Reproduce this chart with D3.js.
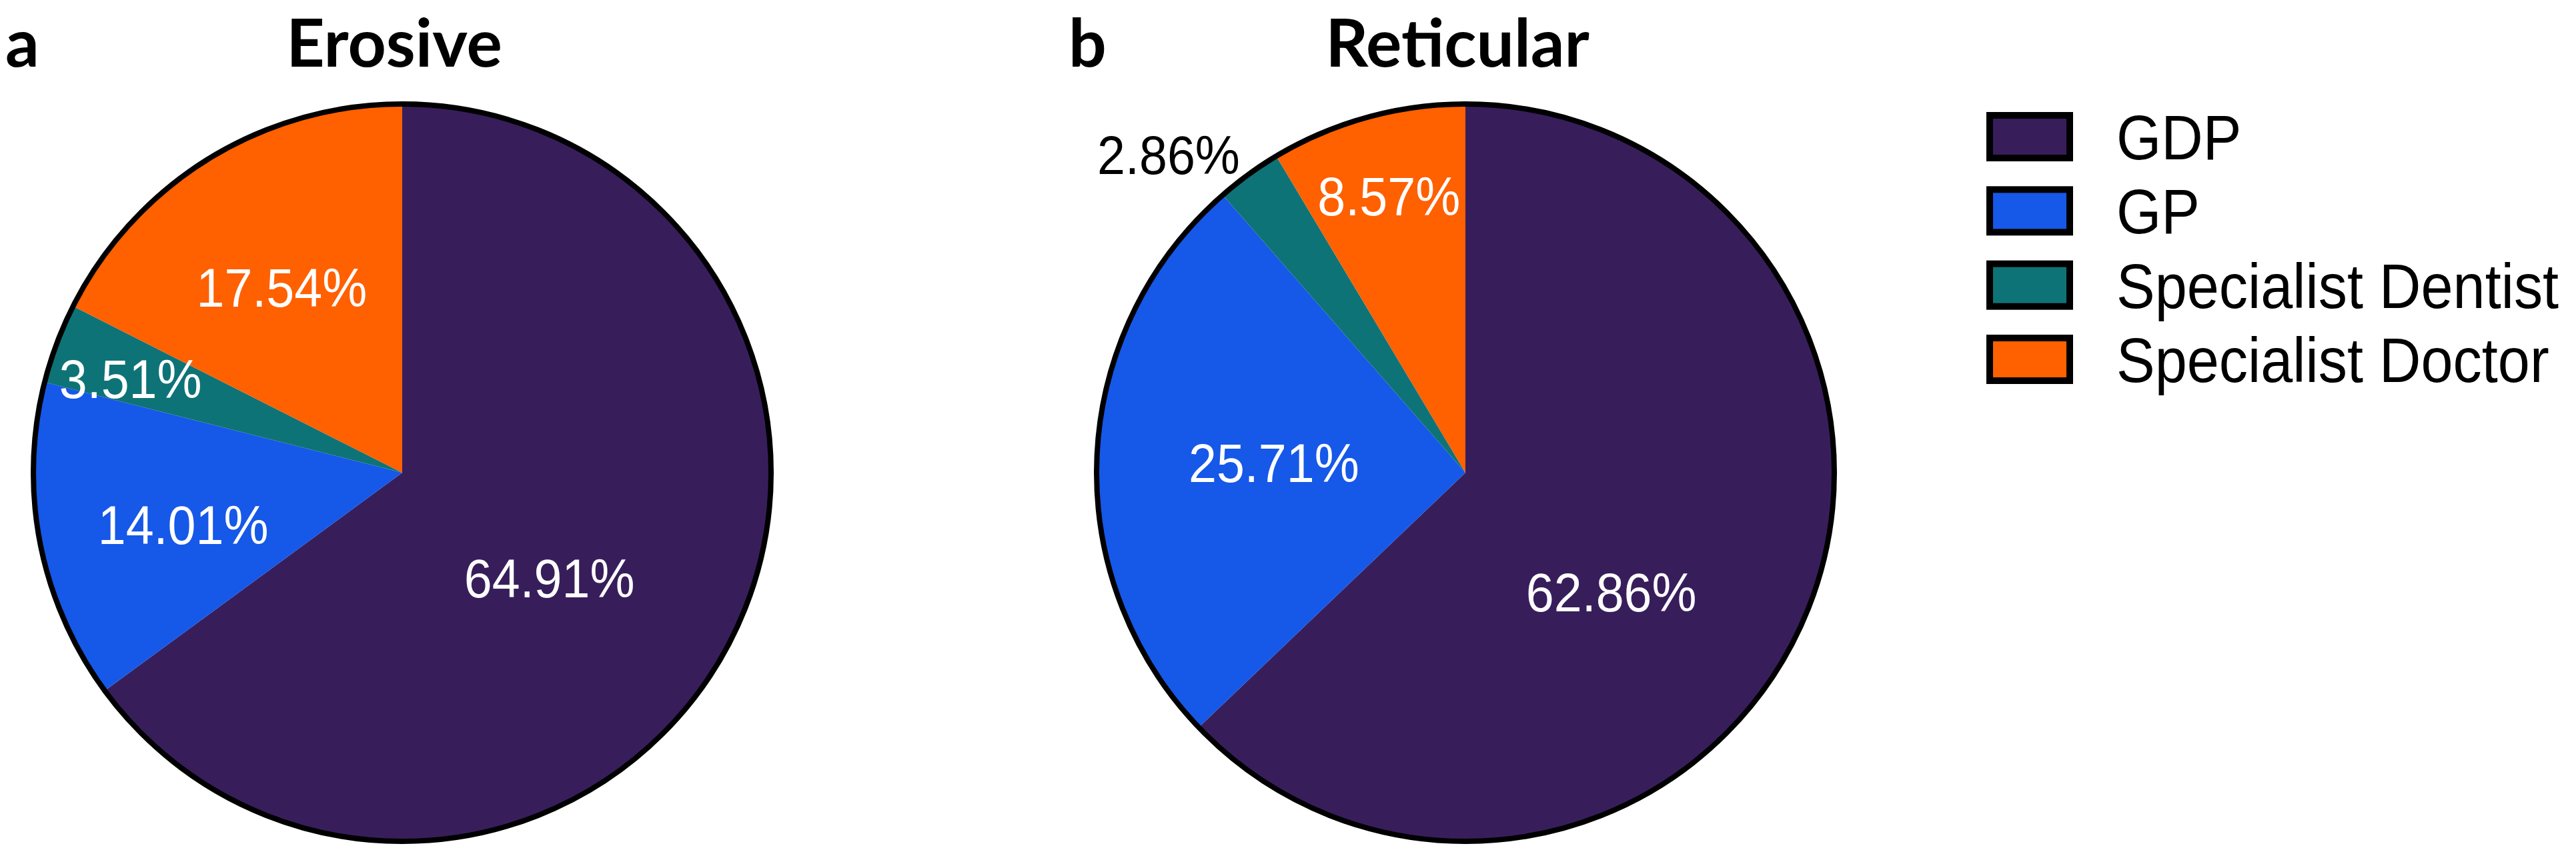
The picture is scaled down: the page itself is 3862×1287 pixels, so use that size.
<!DOCTYPE html>
<html>
<head>
<meta charset="utf-8">
<script src="https://cdn.jsdelivr.net/npm/d3@7"></script>
<style>
  body { margin: 0; background: #fff; }
  svg { display: block; }
  .sans { font-family: 'Liberation Sans', Arimo, Arial, sans-serif; }
  .head { font-family: Lato, 'Open Sans', sans-serif; font-weight: bold; }
</style>
</head>
<body>
<svg></svg>
<script>
const categories = ['GDP', 'GP', 'Specialist Dentist', 'Specialist Doctor'];
const colours = ['#371e5b', '#1658e8', '#0e7377', '#ff6000'];

const erosiveValues = [64.91, 14.01, 3.51, 17.54];
const reticularValues = [62.86, 25.71, 2.86, 8.57];

// label placement: share of radius, and a small turn (degrees) off the slice middle
const erosiveLabelPos = [0.49, 0.61, 0.78, 0.6];
const erosiveLabelTurn = [8.6, -2.2, -1.3, -1.4];
const reticularLabelPos = [0.51, 0.52, 1.18, 0.78];
const reticularLabelTurn = [16, 0.6, -7, 0];
const reticularLabelInk = ['#fff', '#fff', '#000', '#fff'];

const svgWidth = 3862;
const svgHeight = 1287;
const radius = 553;

const svg = d3.select('svg')
    .attr('width', svgWidth)
    .attr('height', svgHeight);

const colour = d3.scaleOrdinal()
    .domain(categories)
    .range(colours);

const pie = d3.pie()
    .sort(null)
    .value(d => d.value);

const arc = d3.arc()
    .innerRadius(0)
    .outerRadius(radius);

function drawPie(cx, cy, letter, title, values, labelPos, labelTurn, labelInk) {
    const data = categories.map((c, i) => ({ name: c, value: values[i] }));
    const g = svg.append('g')
        .attr('transform', `translate(${cx}, ${cy})`);

    g.selectAll('.slice')
        .data(pie(data))
        .enter().append('path')
        .attr('class', 'slice')
        .attr('d', arc)
        .attr('fill', d => colour(d.data.name));

    g.append('circle')
        .attr('r', radius)
        .attr('fill', 'none')
        .attr('stroke', '#000')
        .attr('stroke-width', 8);

    g.selectAll('.lbl')
        .data(pie(data))
        .enter().append('text')
        .attr('class', 'lbl sans')
        .attr('transform', (d, i) => {
            const a = (d.startAngle + d.endAngle) / 2 + labelTurn[i] * Math.PI / 180;
            const r = radius * labelPos[i];
            return `translate(${r * Math.sin(a)}, ${-r * Math.cos(a)}) scale(0.92, 1)`;
        })
        .attr('text-anchor', 'middle')
        .attr('dy', '0.36em')
        .attr('font-size', '82px')
        .attr('fill', (d, i) => labelInk ? labelInk[i] : '#fff')
        .text(d => `${d.data.value.toFixed(2)}%`);

    svg.append('text')
        .attr('class', 'head')
        .attr('x', cx - 12)
        .attr('y', 100)
        .attr('text-anchor', 'middle')
        .attr('font-size', '100px')
        .attr('fill', '#000')
        .text(title);

    svg.append('text')
        .attr('class', 'head')
        .attr('x', cx - 595)
        .attr('y', 100)
        .attr('font-size', '100px')
        .attr('fill', '#000')
        .text(letter);
}

drawPie(603, 709, 'a', 'Erosive', erosiveValues, erosiveLabelPos, erosiveLabelTurn, null);
drawPie(2197, 709, 'b', 'Reticular', reticularValues, reticularLabelPos, reticularLabelTurn, reticularLabelInk);

// legend
const legendY = d3.scalePoint()
    .domain(categories)
    .range([205, 539]);

const legend = svg.append('g');

legend.selectAll('rect')
    .data(categories)
    .enter().append('rect')
    .attr('x', 2983)
    .attr('y', d => legendY(d) - 32)
    .attr('width', 120)
    .attr('height', 64)
    .attr('fill', d => colour(d))
    .attr('stroke', '#000')
    .attr('stroke-width', 10);

legend.selectAll('text')
    .data(categories)
    .enter().append('text')
    .attr('class', 'sans')
    .attr('transform', d => `translate(3173, ${legendY(d)}) scale(0.92, 1)`)
    .attr('dy', '0.36em')
    .attr('font-size', '94px')
    .attr('fill', '#000')
    .text(d => d);
</script>
</body>
</html>
